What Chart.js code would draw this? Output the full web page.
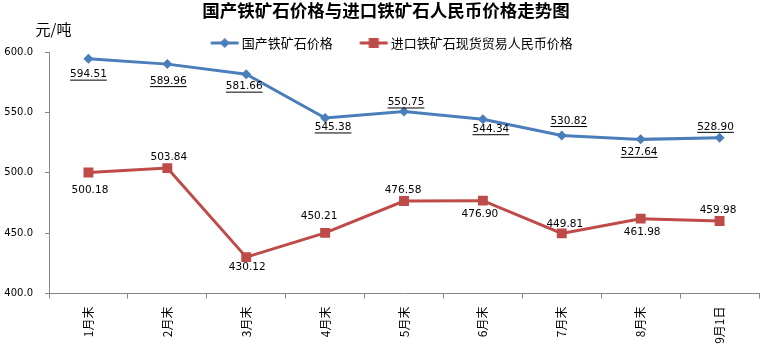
<!DOCTYPE html>
<html><head><meta charset="utf-8">
<script src="https://cdn.jsdelivr.net/npm/chart.js@4/dist/chart.umd.min.js"></script>
<style>html,body{margin:0;padding:0;background:#fff}#wrap{width:772px;height:355px;position:relative}</style>
</head><body><div id="wrap"><canvas id="c"></canvas></div>
<script>
const categories = ['1月末','2月末','3月末','4月末','5月末','6月末','7月末','8月末','9月1日'];
const domesticPrice = [594.51,589.96,581.66,545.38,550.75,544.34,530.82,527.64,528.90];
const importPrice = [500.18,503.84,430.12,450.21,476.58,476.90,449.81,461.98,459.98];
const yTicks = [400,450,500,550,600];
const seriesNames = ['国产铁矿石价格','进口铁矿石现货贸易人民币价格'];
const unitLabel = '元/吨';
const titleText = '国产铁矿石价格与进口铁矿石人民币价格走势图';
// data-label placement (style only): [dx, dy] from each point
const domesticLabelOffsets = [[0,16],[1,17],[-2,12.5],[8,9.5],[2,-9],[8,10],[7,-14.5],[-1.5,12.5],[-4,-11]];
const importLabelOffsets = [[1.5,17.5],[1.5,-11],[1,10],[-6,-16.5],[-1,-10.7],[-3,13.3],[3,-9.4],[1.5,14],[-1.5,-11]];

const BLUE = '#4A7EBB', RED = '#BE4B48';

function legendIcon(color, shape){
  const W = 58, H = 14, a = 22.5, len = 28;
  const c = document.createElement('canvas'); c.width = W; c.height = H;
  const g = c.getContext('2d');
  g.strokeStyle = color; g.lineWidth = 3;
  g.beginPath(); g.moveTo(a,7); g.lineTo(a+len,7); g.stroke();
  g.fillStyle = color;
  const cx = a + len/2, cy = 7;
  if (shape === 'diamond') {
    g.beginPath(); g.moveTo(cx,cy-5); g.lineTo(cx+5,cy); g.lineTo(cx,cy+5); g.lineTo(cx-5,cy); g.closePath(); g.fill();
  } else {
    g.fillRect(cx-5, cy-5, 10, 10);
  }
  return c;
}
const icons = [legendIcon(BLUE,'diamond'), legendIcon(RED,'square')];

const labelPlugin = {
  id: 'valueLabels',
  afterDatasetsDraw(chart) {
    const ctx = chart.ctx;
    ctx.save();
    ctx.font = '10.5px "DejaVu Sans"';
    ctx.fillStyle = '#000';
    ctx.textAlign = 'center';
    ctx.textBaseline = 'middle';
    chart.data.datasets.forEach((ds, di) => {
      const meta = chart.getDatasetMeta(di);
      const offs = di === 0 ? domesticLabelOffsets : importLabelOffsets;
      meta.data.forEach((pt, i) => {
        const txt = ds.data[i].toFixed(2);
        const x = pt.x + offs[i][0], y = pt.y + offs[i][1];
        ctx.fillText(txt, x, y);
        if (di === 0) {
          const w = ctx.measureText(txt).width;
          ctx.fillRect(x - w/2, y + 5, w, 1);
        }
      });
    });
    ctx.font = '15px "Noto Sans CJK SC"';
    ctx.textAlign = 'center';
    ctx.fillText(unitLabel, 53.5, 29);
    ctx.restore();
  }
};

new Chart(document.getElementById('c'), {
  type: 'line',
  data: {
    labels: categories,
    datasets: [
      { label: seriesNames[0], data: domesticPrice, borderColor: BLUE, backgroundColor: BLUE,
        borderWidth: 3, pointStyle: 'rectRot', pointRadius: 5, pointHoverRadius: 5, pointBorderWidth: 0, tension: 0 },
      { label: seriesNames[1], data: importPrice, borderColor: RED, backgroundColor: RED,
        borderWidth: 3, pointStyle: 'rect', pointRadius: 7, pointHoverRadius: 7, pointBorderWidth: 0, tension: 0 }
    ]
  },
  options: {
    responsive: true, maintainAspectRatio: false, animation: false,
    layout: { padding: { left: 0, right: 0, top: 0, bottom: 0 } },
    plugins: {
      title: { display: true, text: titleText, color: '#000',
        font: { family: 'Noto Sans CJK SC', size: 17.5, weight: 'bold', lineHeight: 1.2 },
        padding: { top: 0, bottom: 0 } },
      legend: { display: true, position: 'top', maxHeight: 31,
        labels: { usePointStyle: true, pointStyleWidth: 36, padding: 15.5, color: '#000',
          font: { family: 'Noto Sans CJK SC', size: 13 },
          generateLabels: (chart) => chart.data.datasets.map((ds, i) => ({
            text: ds.label, pointStyle: icons[i], fillStyle: ds.borderColor, strokeStyle: ds.borderColor,
            lineWidth: 0, hidden: false, datasetIndex: i, fontColor: '#000' })) } },
      tooltip: { enabled: false }
    },
    scales: {
      x: { type: 'category', offset: true,
        ticks: { minRotation: 90, maxRotation: 90, autoSkip: false, padding: 8, color: '#000',
          font: { family: 'Noto Sans CJK SC', size: 12 } },
        grid: { offset: true, drawOnChartArea: false, drawTicks: true, tickLength: 5, color: '#868686' },
        border: { color: '#868686', width: 1 },
        afterFit: (s) => { s.height = 61.5; } },
      y: { min: 400, max: 600,
        afterBuildTicks: (s) => { s.ticks = yTicks.map(v => ({ value: v })); },
        ticks: { callback: (v) => Number(v).toFixed(1), padding: 12, color: '#000',
          font: { family: 'DejaVu Sans', size: 10 } },
        grid: { drawOnChartArea: false, drawTicks: true, tickLength: 4, color: '#868686' },
        border: { color: '#868686', width: 1 },
        afterFit: (s) => { s.width = 49; } },
      yRight: { position: 'right', display: true,
        ticks: { display: false }, grid: { display: false }, border: { display: false },
        afterFit: (s) => { s.width = 13; } }
    }
  },
  plugins: [labelPlugin]
});
</script></body></html>
